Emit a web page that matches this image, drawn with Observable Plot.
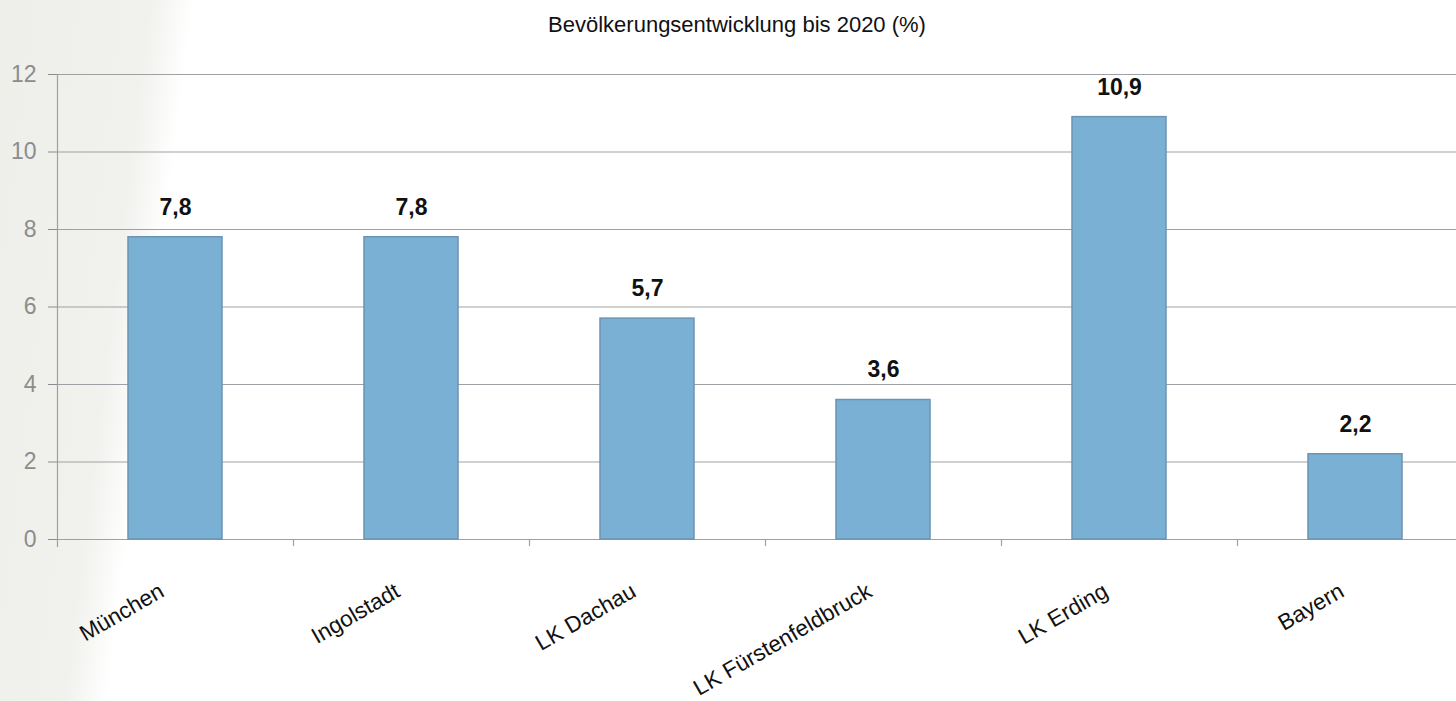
<!DOCTYPE html>
<html><head><meta charset="utf-8">
<script src="https://cdn.jsdelivr.net/npm/d3@7"></script>
<script src="https://cdn.jsdelivr.net/npm/@observablehq/plot@0.6"></script>
<style>
body{margin:0;width:1456px;height:701px;overflow:hidden;background:linear-gradient(97deg,#eeefeb 0px,#f1f2ee 150px,#ffffff 192px);font-family:"Liberation Sans",Arial,sans-serif;}
#title{height:50px;line-height:50px;text-align:center;font-size:22px;color:#111;padding-left:18px;box-sizing:border-box}
</style></head><body>
<div id="title">Bevölkerungsentwicklung bis 2020 (%)</div>
<div id="chart"></div>
<script>
const categories = ["München","Ingolstadt","LK Dachau","LK Fürstenfeldbruck","LK Erding","Bayern"];
const values = [7.8,7.8,5.7,3.6,10.9,2.2];
const yTicks = [0,2,4,6,8,10,12];
const data = categories.map((c,i)=>({category:c, value: values[i]}));
const fmt = v => v.toFixed(1).replace(".", ",");
const gridColor = "#9da1a5";
const chart = Plot.plot({
  width: 1456, height: 651,
  marginLeft: 57, marginRight: 0, marginTop: 24, marginBottom: 162,
  style: {background: "transparent", fontFamily: '"Liberation Sans",Arial,sans-serif', overflow: "visible"},
  x: {domain: categories, range: [57, 1474], paddingInner: 0.6, paddingOuter: 0.3, axis: null},
  y: {domain: [0, 12], axis: null},
  marks: [
    Plot.ruleY(yTicks, {stroke: gridColor, strokeWidth: 1.2}),
    Plot.axisY({ticks: yTicks, tickSize: 9, tickPadding: 12, fontSize: 23, color: "#8c8c8c", label: null}),
    Plot.ruleX([categories[0]], {dx: -118, y1: 12, y2: 0, insetBottom: -8, stroke: gridColor, strokeWidth: 1.2}),
    Plot.ruleX(categories.slice(1), {dx: -118, y1: 0, y2: 0, insetBottom: -7, stroke: gridColor, strokeWidth: 1.2}),
    Plot.barY(data, {x: "category", y: "value", fill: "#7ab0d4", stroke: "#6b94b3", strokeWidth: 1.5}),
    Plot.text(data, {x: "category", y: "value", text: d => fmt(d.value), dy: -30, fontSize: 23, fontWeight: "bold", fill: "#111"}),
    Plot.text(data, {x: "category", y: 0, text: "category", rotate: -30, textAnchor: "end", lineAnchor: "bottom", dx: -10, dy: 56, fontSize: 22.5, fill: "#111"})
  ]
});
document.getElementById("chart").appendChild(chart);
</script>
</body></html>
